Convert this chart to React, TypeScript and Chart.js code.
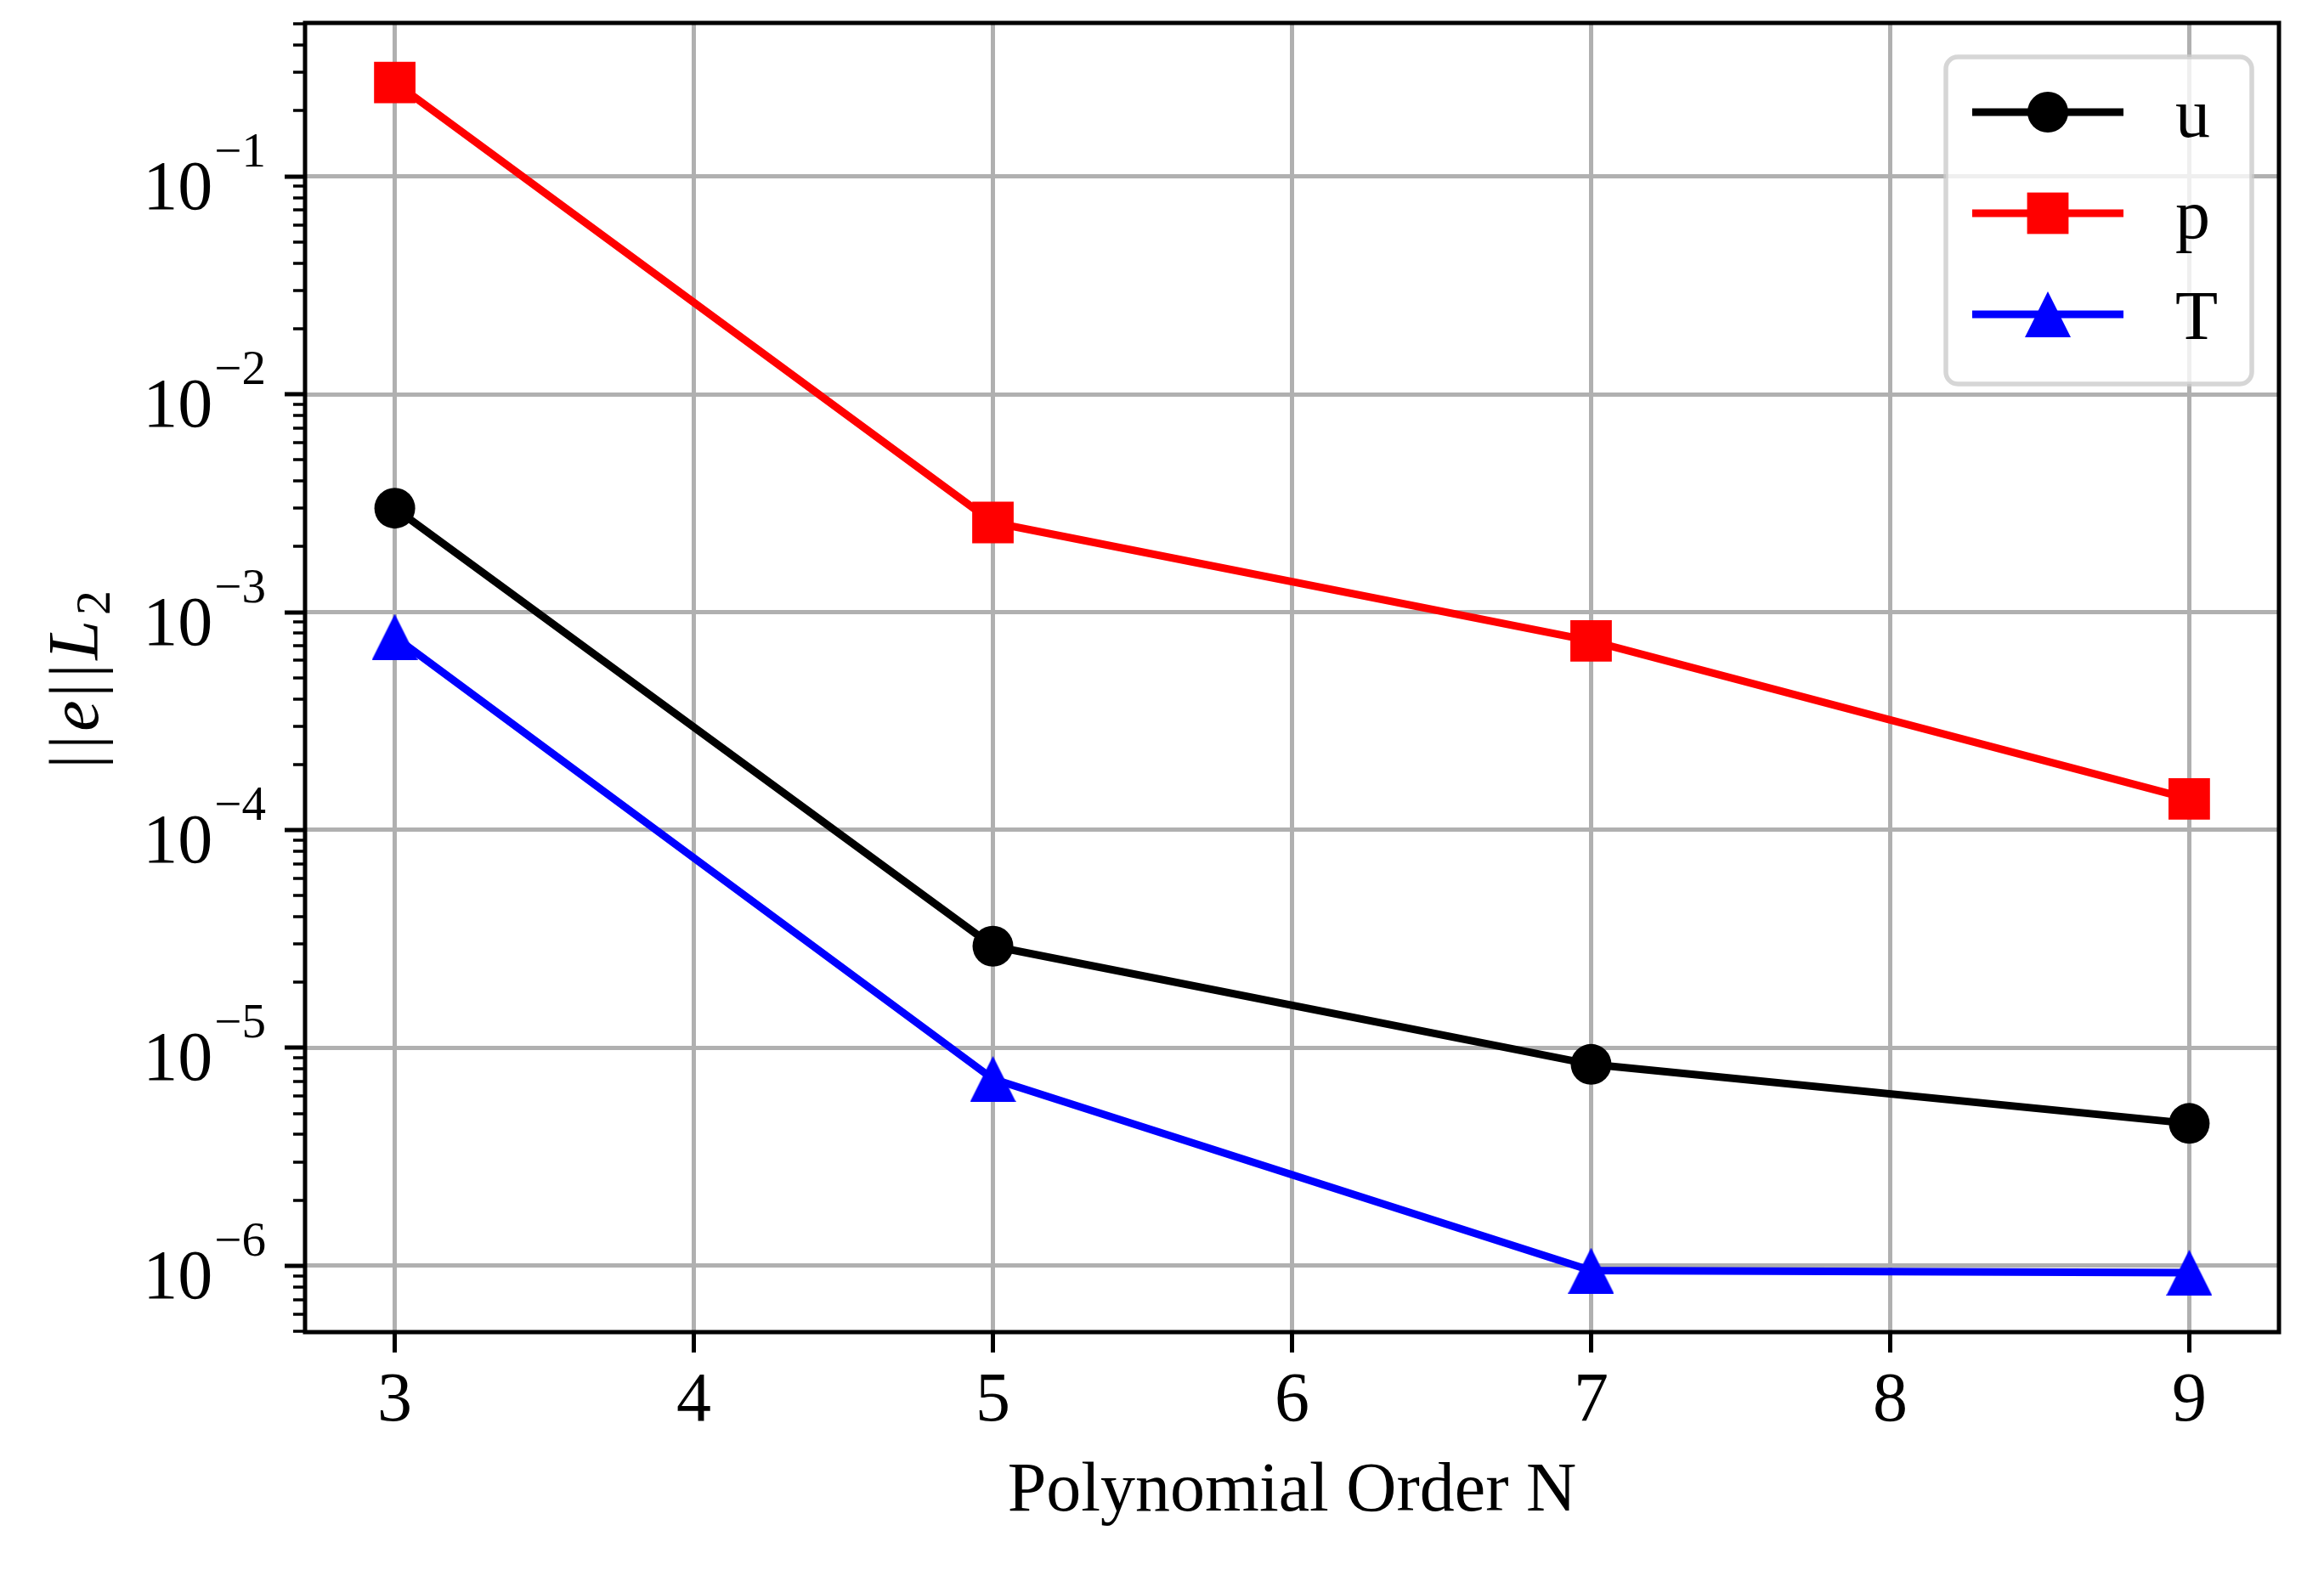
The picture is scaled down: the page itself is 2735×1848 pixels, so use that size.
import React, { useRef, useEffect } from 'react';
import { Chart, registerables } from 'chart.js';

Chart.register(...registerables);

// polynomial order on x, L2 error norm on y (log)
const orders = [3, 5, 7, 9];
const uErr = [3.0e-3, 2.93e-5, 8.4e-6, 4.5e-6];
const pErr = [2.7e-1, 2.58e-3, 7.38e-4, 1.39e-4];
const tErr = [7.7e-4, 7.2e-6, 9.5e-7, 9.3e-7];
const seriesNames = ['u', 'p', 'T'];
const xTicks = [3, 4, 5, 6, 7, 8, 9];
const yDecades = [-6, -5, -4, -3, -2, -1];

const FONT = "'Liberation Serif', 'Times New Roman', serif";
const GRID = '#b0b0b0';

const logs = [...uErr, ...pErr, ...tErr].map((v) => Math.log10(v));
const lo = Math.min(...logs);
const hi = Math.max(...logs);
const yMin = Math.pow(10, lo - 0.05 * (hi - lo));
const yMax = Math.pow(10, hi + 0.05 * (hi - lo));

const isMajor = (v) => Math.abs(Math.log10(v) - Math.round(Math.log10(v))) < 1e-9;

const yTickValues = () => {
  const out = [];
  for (let e = -8; e <= 0; e++) {
    for (let k = 1; k <= 9; k++) {
      const v = k * Math.pow(10, e);
      if (v >= yMin && v <= yMax) out.push(v);
    }
  }
  return out;
};

const makeTriangle = (size, color) => {
  const c = document.createElement('canvas');
  c.width = size;
  c.height = size;
  const g = c.getContext('2d');
  g.fillStyle = color;
  g.beginPath();
  g.moveTo(size / 2, 0);
  g.lineTo(size, size);
  g.lineTo(0, size);
  g.closePath();
  g.fill();
  return c;
};

const axesPlugin = {
  id: 'mplAxes',
  afterDraw(chart) {
    const ctx = chart.ctx;
    const { left, right, top, bottom } = chart.chartArea;
    const yScale = chart.scales.y;
    ctx.save();

    // frame
    ctx.strokeStyle = '#000';
    ctx.lineWidth = 5;
    ctx.strokeRect(left, top, right - left, bottom - top);

    // y tick marks
    yTickValues().forEach((v) => {
      const y = Math.round(yScale.getPixelForValue(v));
      const major = isMajor(v);
      ctx.lineWidth = major ? 5 : 3.5;
      ctx.beginPath();
      ctx.moveTo(left - (major ? 24 : 14), y);
      ctx.lineTo(left, y);
      ctx.stroke();
    });

    // y tick labels 10^-n
    ctx.fillStyle = '#000';
    ctx.textBaseline = 'alphabetic';
    ctx.textAlign = 'left';
    yDecades.forEach((e) => {
      const y = yScale.getPixelForValue(Math.pow(10, e));
      const sup = '\u2212' + String(-e);
      ctx.font = `82px ${FONT}`;
      const w10 = ctx.measureText('10').width;
      ctx.font = `57px ${FONT}`;
      const wSup = ctx.measureText(sup).width;
      const x0 = left - 48 - wSup - w10;
      ctx.font = `82px ${FONT}`;
      ctx.fillText('10', x0, y + 38);
      ctx.font = `57px ${FONT}`;
      ctx.fillText(sup, x0 + w10 + 2, y - 12);
    });

    // y axis title ||e|| L_2
    const cy = (top + bottom) / 2;
    ctx.translate(115, cy + 102);
    ctx.rotate(-Math.PI / 2);
    ctx.textAlign = 'center';
    const parts = [
      ['|', 3, 0, `82px ${FONT}`],
      ['|', 26, 0, `82px ${FONT}`],
      ['e', 57, 0, `italic 82px ${FONT}`],
      ['|', 87, 0, `82px ${FONT}`],
      ['|', 110, 0, `82px ${FONT}`],
      ['L', 146, 0, `italic 84px ${FONT}`],
      ['2', 190, 14, `58px ${FONT}`],
    ];
    parts.forEach(([t, x, dy, f]) => {
      ctx.font = f;
      ctx.fillText(t, x, dy);
    });
    ctx.restore();
  },
};

const legendPlugin = {
  id: 'mplLegend',
  afterDraw(chart) {
    const ctx = chart.ctx;
    const { right, top } = chart.chartArea;
    const bx = right - 392;
    const by = top + 40;
    const bw = 360;
    const bh = 385;
    ctx.save();
    ctx.beginPath();
    ctx.roundRect(bx, by, bw, bh, 14);
    ctx.fillStyle = 'rgba(255,255,255,0.8)';
    ctx.fill();
    ctx.lineWidth = 5.5;
    ctx.strokeStyle = 'rgba(204,204,204,0.8)';
    ctx.stroke();

    chart.data.datasets.forEach((ds, i) => {
      const y = by + 65 + i * 119;
      const x1 = bx + 31;
      const x2 = bx + 209;
      const xm = (x1 + x2) / 2;
      ctx.strokeStyle = ds.borderColor;
      ctx.lineWidth = ds.borderWidth;
      ctx.beginPath();
      ctx.moveTo(x1, y);
      ctx.lineTo(x2, y);
      ctx.stroke();
      ctx.fillStyle = ds.backgroundColor;
      if (ds.pointStyle === 'circle') {
        ctx.beginPath();
        ctx.arc(xm, y, ds.pointRadius, 0, Math.PI * 2);
        ctx.fill();
      } else if (ds.pointStyle === 'rect') {
        const s = ds.pointRadius * Math.SQRT1_2;
        ctx.fillRect(xm - s, y - s, 2 * s, 2 * s);
      } else {
        const img = ds.pointStyle;
        ctx.drawImage(img, xm - img.width / 2, y - img.height / 2);
      }
      ctx.fillStyle = '#000';
      ctx.font = `82px ${FONT}`;
      ctx.textAlign = 'left';
      ctx.textBaseline = 'alphabetic';
      ctx.fillText(ds.label, bx + 270, y + 29);
    });
    ctx.restore();
  },
};

const App = () => {
  const canvasRef = useRef(null);
  const chartRef = useRef(null);

  useEffect(() => {
    if (!canvasRef.current) return;
    Chart.defaults.font.family = FONT;
    const tri = makeTriangle(54, '#0000ff');
    const pts = (vals) => orders.map((x, i) => ({ x, y: vals[i] }));

    chartRef.current = new Chart(canvasRef.current, {
      type: 'line',
      data: {
        datasets: [
          {
            label: seriesNames[0],
            data: pts(uErr),
            borderColor: '#000000',
            backgroundColor: '#000000',
            borderWidth: 9,
            pointStyle: 'circle',
            pointRadius: 24,
            pointBorderWidth: 0,
            order: 2,
          },
          {
            label: seriesNames[1],
            data: pts(pErr),
            borderColor: '#ff0000',
            backgroundColor: '#ff0000',
            borderWidth: 9,
            pointStyle: 'rect',
            pointRadius: 34.5,
            pointBorderWidth: 0,
            order: 1,
          },
          {
            label: seriesNames[2],
            data: pts(tErr),
            borderColor: '#0000ff',
            backgroundColor: '#0000ff',
            borderWidth: 9,
            pointStyle: tri,
            pointRadius: 27,
            pointBorderWidth: 0,
            order: 0,
          },
        ],
      },
      options: {
        responsive: true,
        maintainAspectRatio: false,
        devicePixelRatio: 1,
        animation: false,
        events: [],
        layout: { autoPadding: false, padding: { left: 359, right: 53, top: 27, bottom: 0 } },
        plugins: { legend: { display: false }, tooltip: { enabled: false } },
        scales: {
          x: {
            type: 'linear',
            min: 2.7,
            max: 9.3,
            afterBuildTicks: (s) => {
              s.ticks = xTicks.map((v) => ({ value: v }));
            },
            afterFit: (s) => {
              s.height = 280;
              s.paddingLeft = 0;
              s.paddingRight = 0;
            },
            ticks: { font: { size: 82 }, color: '#000', padding: 9 },
            grid: { color: GRID, lineWidth: 5, tickLength: 24, tickColor: '#000', tickWidth: 5 },
            border: { display: false },
            title: {
              display: true,
              text: 'Polynomial Order N',
              color: '#000',
              font: { size: 82 },
              padding: { top: 0, bottom: 42 },
            },
          },
          y: {
            type: 'logarithmic',
            min: yMin,
            max: yMax,
            afterBuildTicks: (s) => {
              s.ticks = yTickValues().map((v) => ({ value: v, major: isMajor(v) }));
            },
            afterFit: (s) => {
              s.width = 0;
              s.paddingTop = 0;
              s.paddingBottom = 0;
            },
            ticks: { display: false },
            grid: {
              color: (c) => (c.tick && isMajor(c.tick.value) ? GRID : 'rgba(0,0,0,0)'),
              lineWidth: 5,
              drawTicks: false,
            },
            border: { display: false },
          },
        },
      },
      plugins: [axesPlugin, legendPlugin],
    });

    return () => {
      if (chartRef.current) {
        chartRef.current.destroy();
        chartRef.current = null;
      }
    };
  }, []);

  return (
    <div style={{ position: 'absolute', left: 0, top: 0, width: 2735, height: 1848, background: '#fff' }}>
      <canvas ref={canvasRef} />
    </div>
  );
};

export default App;
